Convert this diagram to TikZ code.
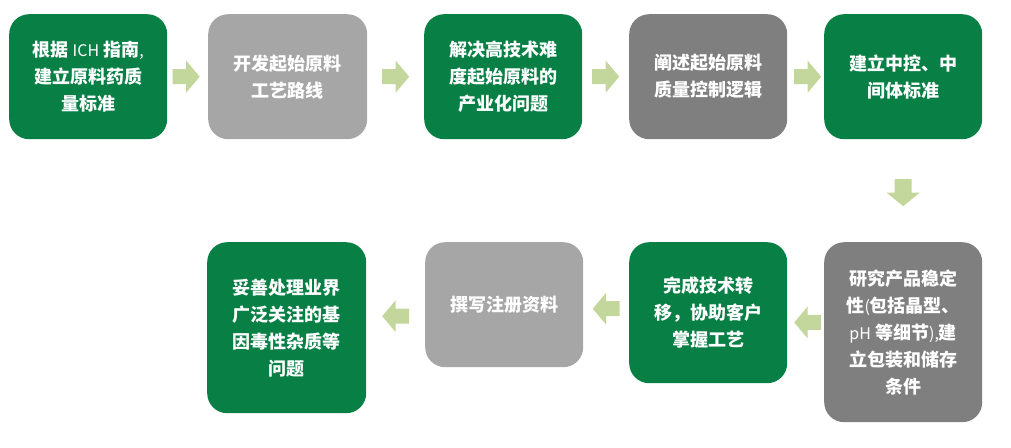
\documentclass[tikz,border=0pt]{standalone}
\usepackage{fontspec}
\newfontfamily\cjk{Noto Sans CJK SC}
\usetikzlibrary{calc}
\definecolor{dgreen}{HTML}{087F45}
\definecolor{lgray}{HTML}{A6A6A6}
\definecolor{dgray}{HTML}{7F7F7F}
\definecolor{arrowc}{HTML}{C3D69B}
\newcommand{\lat}[1]{{\mdseries\fontsize{16pt}{26.5pt}\selectfont #1}}
\tikzset{
  box/.style={rounded corners=20pt, anchor=north west, text=white, align=center,
    inner sep=0pt, font=\cjk\bfseries\fontsize{18pt}{27pt}\selectfont},
  greenbox/.style={box, fill=dgreen},
  lgraybox/.style={box, fill=lgray},
  dgraybox/.style={box, fill=dgray},
  pics/rarr/.style={code={\fill[arrowc] (-13.5,-7.5) -- (0,-7.5) -- (0,-16) -- (13.5,0) -- (0,16) -- (0,7.5) -- (-13.5,7.5) -- cycle;}},
  pics/larr/.style={code={\fill[arrowc] (13.5,-7.5) -- (0,-7.5) -- (0,-16) -- (-13.5,0) -- (0,16) -- (0,7.5) -- (13.5,7.5) -- cycle;}},
  pics/darr/.style={code={\fill[arrowc] (-8.5,-13.5) -- (-8.5,0) -- (-16.5,0) -- (0,13.5) -- (16.5,0) -- (8.5,0) -- (8.5,-13.5) -- cycle;}},
}
\begin{document}
\begin{tikzpicture}[x=1pt, y=-1pt]
\useasboundingbox (0,0) rectangle (1011,447);
\node[greenbox, minimum width=158pt, minimum height=125pt] (n1) at (9,14)
  {根据 \lat{ICH} 指南\lat{,}\\建立原料药质\\量标准};
\node[lgraybox, minimum width=159pt, minimum height=125pt] (n2) at (208,14)
  {开发起始原料\\工艺路线};
\node[greenbox, minimum width=158pt, minimum height=125pt] (n3) at (424,14)
  {解决高技术难\\度起始原料的\\产业化问题};
\node[dgraybox, minimum width=158pt, minimum height=125pt] (n4) at (629,14)
  {阐述起始原料\\质量控制逻辑};
\node[greenbox, minimum width=158pt, minimum height=125pt] (n5) at (824,14)
  {建立中控、中\\间体标准};
\node[dgraybox, minimum width=158pt, minimum height=180pt] (n6) at (824,242)
  {研究产品稳定\\性\lat{(}包括晶型、\\\lat{pH} 等细节\lat{),}建\\立包装和储存\\条件};
\node[greenbox, minimum width=158pt, minimum height=141pt] (n7) at (629,242)
  {完成技术转\\移，协助客户\\掌握工艺};
\node[lgraybox, minimum width=158pt, minimum height=125pt] (n8) at (425,242)
  {撰写注册资料};
\node[greenbox, minimum width=159pt, minimum height=171pt] (n9) at (207,242)
  {妥善处理业界\\广泛关注的基\\因毒性杂质等\\问题};
\coordinate (rowb) at (0,305);
\pic at ($(n1.east)!0.5!(n2.west)+(-1.5,0)$) {rarr};
\pic at ($(n2.east)!0.5!(n3.west)$) {rarr};
\pic at ($(n3.east)!0.5!(n4.west)$) {rarr};
\pic at ($(n4.east)!0.5!(n5.west)+(2,0)$) {rarr};
\pic at ($(n5.south)!0.5!(n6.north)+(0,2)$) {darr};
\pic at ($(n6.west)!0.5!(n7.east)+(2,0)$ |- rowb) {larr};
\pic at ($(n7.west)!0.5!(n8.east)$ |- rowb) {larr};
\pic at ($(n8.west)!0.5!(n9.east)$ |- rowb) {larr};
\end{tikzpicture}
\end{document}
